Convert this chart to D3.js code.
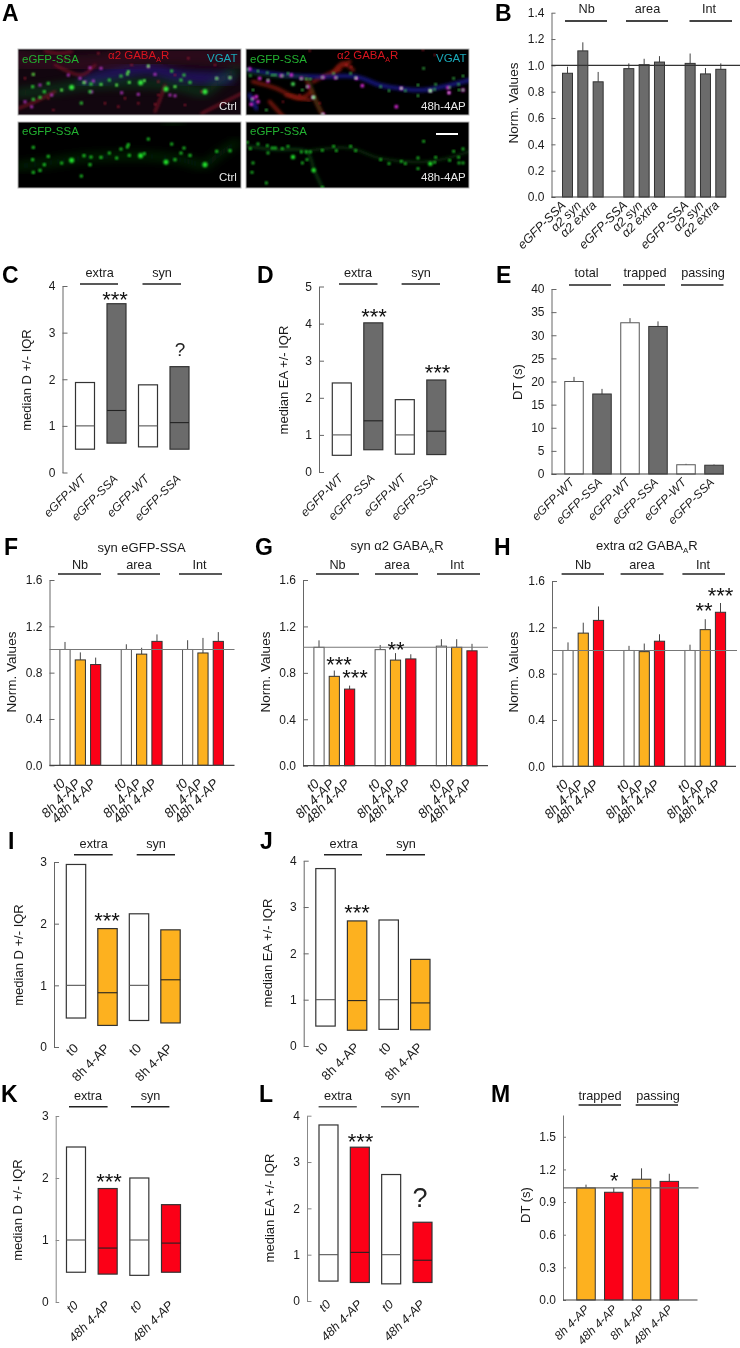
<!DOCTYPE html>
<html><head><meta charset="utf-8">
<script src="https://cdn.jsdelivr.net/npm/d3@7/dist/d3.min.js"></script>
<style>
html,body{margin:0;padding:0;background:#fff}
svg{display:block;filter:blur(.3px)}
text{font-family:"Liberation Sans",Arial,sans-serif;fill:#1a1a1a}
</style></head><body><svg id="fig" width="740" height="1348" xmlns="http://www.w3.org/2000/svg"></svg>
<script>
// ---------- DATA ----------
const slots3x3 = [0,1,2,4,5,6,8,9,10];
const catsB = ["eGFP-SSA","α2 syn","α2 extra","eGFP-SSA","α2 syn","α2 extra","eGFP-SSA","α2 syn","α2 extra"];
const valsB = [.94,1.11,.875,.975,1.005,1.025,1.015,.935,.97];
const errB  = [.99,1.175,.95,1.015,1.05,1.07,1.09,.98,1.015];
const groupsNAI = ["Nb","area","Int"];

const catsWS = ["eGFP-WT","eGFP-SSA","eGFP-WT","eGFP-SSA"];
const groupsES = ["extra","syn"];
const boxC = {lo:[.5,.63,.55,.5], med:[1,1.33,1,1.07], hi:[1.93,3.62,1.88,2.27]};
const boxD = {lo:[.45,.6,.48,.47], med:[1,1.38,1,1.1], hi:[2.4,4.02,1.95,2.48]};

const catsE = ["eGFP-WT","eGFP-SSA","eGFP-WT","eGFP-SSA","eGFP-WT","eGFP-SSA"];
const valsE = [20,17.3,32.7,31.9,2,1.9];
const errE  = [21,18.4,33.7,33,2.2,2.05];
const groupsE = ["total","trapped","passing"];

const catsT = ["t0","8h 4-AP","48h 4-AP","t0","8h 4-AP","48h 4-AP","t0","8h 4-AP","48h 4-AP"];
const valsF = [1,.91,.87,1,.96,1.07,1,.97,1.07];
const errF  = [1.065,.975,.93,1.045,1.015,1.13,1.08,1.1,1.15];
const valsG = [1.02,.77,.66,1,.91,.92,1.03,1.02,.99];
const errG  = [1.08,.82,.69,1.04,.97,.96,1.09,1.09,1.05];
const valsH = [1,1.15,1.26,1,.99,1.08,1,1.18,1.33];
const errH  = [1.07,1.24,1.38,1.04,1.06,1.14,1.05,1.27,1.41];

const cats8 = ["t0","8h 4-AP","t0","8h 4-AP"];
const cats48 = ["t0","48h 4-AP","t0","48h 4-AP"];
const boxI = {lo:[.47,.35,.43,.39], med:[1,.88,1,1.09], hi:[2.96,1.92,2.16,1.9]};
const boxJ = {lo:[.43,.34,.36,.35], med:[1,.98,1,.93], hi:[3.83,2.7,2.72,1.87]};
const boxK = {lo:[.48,.45,.43,.48], med:[1,.87,1,.95], hi:[2.5,1.83,2,1.57]};
const boxL = {lo:[.43,.4,.37,.4], med:[1,1.05,1,.88], hi:[3.8,3.32,2.73,1.7]};

const catsM = ["8h 4-AP","48h 4-AP","8h 4-AP","48h 4-AP"];
const valsM = [1.03,.99,1.11,1.09];
const errM  = [1.06,1.03,1.21,1.16];
const groupsM = ["trapped","passing"];

// micrograph puncta, in picture units of each tile (x 0-690, y 0-225); third item = large spot
const greenCtrl = [[170,127,1],[140,135],[207,113],[258,118],[305,120],[337,87],[340,80],[400,63],[343,112],[377,113,1],[388,107],[453,132,1],[480,125],[498,105],[507,90],[525,112],[605,100],[470,78],[570,140,1],[199,174],[55,163],[75,157],[88,140],[53,125],[228,117],[225,140],[645,98],[283,105],[55,88],[318,93],[100,115]];
const green48h = [[13,73],[22,92],[45,78],[73,83],[75,105],[88,90],[97,90],[118,92],[135,85],[150,117,1],[175,102],[190,102],[202,102],[178,135],[192,125],[212,157,1],[238,208],[238,97],[280,98],[272,85],[323,85],[338,98],[413,125],[475,130],[487,137],[525,120],[562,137,1],[575,133],[578,118],[620,127],[647,118],[660,135],[648,135],[660,93],[525,152],[30,135],[27,163],[438,137],[70,195],[542,70],[632,100]];
const pinkCtrl = [[210,110],[235,108],[605,100],[645,98],[370,148],[225,68],[258,70],[30,170],[75,120],[230,140],[320,143],[420,88],[465,150],[400,65],[480,152],[160,90],[195,100],[50,185],[110,150]];
const redCtrl = [[270,175],[370,175],[420,178],[115,195],[310,185],[250,25],[560,140],[100,160],[55,88],[430,110],[430,150],[330,160],[510,180],[350,60],[150,40],[600,60],[520,40],[30,100],[480,90]];
const pink48h = [[115,92],[145,90],[20,72],[30,160],[40,155],[45,170],[25,178],[210,157],[240,208],[340,100],[475,130],[562,137],[618,143],[660,135],[460,185],[278,98],[175,100],[195,125],[358,122],[75,108],[50,100],[615,128],[240,97]];
const red48h = [[200,17],[345,20],[540,15],[575,30],[325,65],[310,60],[170,150],[120,170],[230,175]];
const dendCtrl = [[8,145],[100,135],[200,120],[300,115],[400,115],[500,125],[570,140],[610,110],[665,75]];
const dend48hA = [[10,85],[100,95],[190,100],[215,160],[240,212]];
const dend48hB = [[190,100],[320,90],[410,120],[560,130],[680,100]];
const fiberCtrl = [[[560,205],[620,175],[680,145]],[[90,18],[130,25],[170,20]],[[10,190],[60,170],[120,140]],[[120,60],[200,90],[240,60]],[[420,200],[440,150],[450,120]]];
const hazeCtrl = [[[210,110],[300,85],[400,70],[500,95],[640,100]]];
const fiber48h = [[[30,110],[100,130],[170,160],[205,140]],[[285,70],[320,50]],[[210,110],[250,90],[290,75]],[[80,170],[130,225]],[[130,150],[200,165]],[[190,100],[215,160],[240,212]],[[270,85],[300,55],[330,75]]];
const haze48h = [[[15,75],[120,90],[230,95],[340,95],[410,120],[470,130],[540,135],[680,105]],[[20,150],[40,190]]];

// ---------- LAYOUT ----------
const svg = d3.select("#fig");
const GRAY="#6b6b6b", ORANGE="#fdb11f", RED="#fb0017", WHITE="#ffffff";
const defs = svg.append("defs");
[["b1",.8],["b2",1.8],["b3",5]].forEach(([id,s])=>defs.append("filter").attr("id",id).attr("x","-30%").attr("y","-30%").attr("width","160%").attr("height","160%").append("feGaussianBlur").attr("stdDeviation",s));

function T(s,x,y,o={}){
  const t=svg.append("text").attr("x",x).attr("y",y).attr("font-size",o.size||12).text(s);
  if(o.anchor)t.attr("text-anchor",o.anchor);
  if(o.weight)t.attr("font-weight",o.weight);
  if(o.style)t.attr("font-style",o.style);
  if(o.fill)t.style("fill",o.fill);
  if(o.rot!=null)t.attr("transform",`rotate(${o.rot} ${x} ${y})`);
  return t;
}
function letter(s,x,y){T(s,x,y,{size:23,weight:"bold",fill:"#000"});}
function groupHead(labels,lines,labelX,lineY,labelY,lw,col){
  labels.forEach((l,i)=>{
    T(l,labelX[i],labelY,{anchor:"middle",size:12.7});
    svg.append("line").attr("x1",lines[i][0]).attr("x2",lines[i][1]).attr("y1",lineY).attr("y2",lineY).attr("stroke",col||"#222").attr("stroke-width",lw||1.5);
  });
}
function axisY(p){
  const y=d3.scaleLinear().domain([0,p.top]).range([p.y0,p.yTop]);
  const g=svg.append("g").attr("transform",`translate(${p.axisX},0)`)
    .call(d3.axisLeft(y).tickValues(p.ticks).tickSizeInner(-(p.tick||5)).tickSizeOuter(0).tickPadding(7).tickFormat(d3.format(p.fmt||"d")));
  g.select(".domain").attr("stroke",p.axisCol||"#666").attr("stroke-width",1);
  g.selectAll(".tick line").attr("stroke",p.axisCol||"#666");
  g.selectAll("text").attr("font-size",12).attr("font-family",'"Liberation Sans",Arial,sans-serif');
  T(p.ylabel,p.labX,p.labY,{anchor:"middle",rot:-90,size:p.ylabel==="Norm. Values"?13.5:13});
  return y;
}
function xLabels(cats,x,slots,base,o){
  cats.forEach((c,i)=>{
    T(c,x(slots[i])+o.dx,base+o.dy,{anchor:"end",rot:-45,style:o.italic?"italic":null,size:o.size||12});
  });
}
function barPanel(p){
  const y=axisY(p);
  const x=d3.scaleLinear().domain([p.slots[0],p.slots[p.slots.length-1]]).range(p.xRange);
  const w=p.barW;
  p.vals.forEach((v,i)=>{
    const c=x(p.slots[i]);
    svg.append("line").attr("x1",c).attr("x2",c).attr("y1",y(v)).attr("y2",y(p.err[i])).attr("stroke","#444").attr("stroke-width",1);
    svg.append("rect").attr("x",c-w/2).attr("y",y(v)).attr("width",w).attr("height",y(0)-y(v))
      .attr("fill",p.fills[i]).attr("stroke",p.fills[i]===WHITE?"#555":"#333").attr("stroke-width",1);
  });
  svg.append("line").attr("x1",p.axisX).attr("x2",p.baseEnd).attr("y1",y(0)).attr("y2",y(0)).attr("stroke","#444").attr("stroke-width",1.2);
  if(p.ref!=null) svg.append("line").attr("x1",p.axisX).attr("x2",p.refEnd).attr("y1",y(p.ref)).attr("y2",y(p.ref)).attr("stroke",p.refCol||"#555").attr("stroke-width",1.1);
  xLabels(p.cats,x,p.slots,p.y0,p.lab);
}
function boxPanel(p){
  const y=axisY(p);
  const slots=d3.range(p.cats.length);
  const x=d3.scaleLinear().domain([0,slots.length-1]).range(p.xRange);
  const w=p.barW;
  p.box.hi.forEach((h,i)=>{
    const c=x(i), fill=p.fills[i];
    svg.append("rect").attr("x",c-w/2).attr("y",y(h)).attr("width",w).attr("height",y(p.box.lo[i])-y(h))
      .attr("fill",fill).attr("stroke","#333").attr("stroke-width",1.2);
    svg.append("line").attr("x1",c-w/2).attr("x2",c+w/2).attr("y1",y(p.box.med[i])).attr("y2",y(p.box.med[i])).attr("stroke",fill===WHITE?"#555":"#222").attr("stroke-width",1.1);
  });
  xLabels(p.cats,x,slots,p.y0,p.lab);
}
function stars(s,x,yc,size){T(s,x,yc+.5*(size||22),{anchor:"middle",size:size||22,fill:"#111"});}
function q(x,yc,size){T("?",x,yc+.36*size,{anchor:"middle",size,fill:"#222"});}
function gabaLabel(x,y,col){
  const t=svg.append("text").attr("x",x).attr("y",y).attr("font-size",11.5).style("fill",col);
  t.append("tspan").text("α2 GABA");
  t.append("tspan").attr("font-size",7).attr("dy",3).text("A");
  t.append("tspan").attr("dy",-3).text("R");
}

// ---------- PANEL A ----------
const sx=d3.scaleLinear().domain([0,690]);
const sy=d3.scaleLinear().domain([0,225]);
const line=d3.line().curve(d3.curveCatmullRom);
function tile(ox,oy,L,R,T0,B0,draw){
  const id="c"+ox+"_"+oy;
  defs.append("clipPath").attr("id",id).append("rect").attr("x",L).attr("y",T0).attr("width",R-L).attr("height",B0-T0);
  const g=svg.append("g").attr("clip-path",`url(#${id})`);
  g.append("rect").attr("x",L).attr("y",T0).attr("width",R-L).attr("height",B0-T0).attr("fill","#000");
  const X=d3.scaleLinear().domain(sx.domain()).range([ox,ox+230]);
  const Y=d3.scaleLinear().domain(sy.domain()).range([oy,oy+75]);
  const path=(pts,col,w,f,op)=>g.append("path").attr("d",line(pts.map(d=>[X(d[0]),Y(d[1])]))).attr("fill","none").attr("stroke",col).attr("stroke-width",w).attr("stroke-linecap","round").attr("opacity",op==null?1:op).attr("filter",`url(#${f})`);
  const dots=(arr,col,r,f)=>arr.forEach(d=>g.append("circle").attr("cx",X(d[0])).attr("cy",Y(d[1])).attr("r",(d[2]?r*1.6:r)).attr("fill",col).attr("filter",`url(#${f})`));
  draw(path,dots,g,L,T0,R-L,B0-T0);
  svg.append("rect").attr("x",L).attr("y",T0).attr("width",R-L).attr("height",B0-T0).attr("fill","none").attr("stroke","#b5b5b5").attr("stroke-width",1);
}
tile(15,45,18,241,49,115,(path,dots,g,l,t,w,h)=>{
  g.append("rect").attr("x",l).attr("y",t).attr("width",w).attr("height",h).attr("fill","#12060f");
  hazeCtrl.forEach(p=>path(p,"#2a1a90",12,"b3",.65));
  path([[0,40],[200,60],[400,30],[680,40]],"#3a0c24",20,"b3",.6);
  path(dendCtrl,"#0c6a20",6,"b3",.6);
  fiberCtrl.forEach(p=>path(p,"#8a1228",2.5,"b2",.8));
  dots(redCtrl,"#c81c38",1.1,"b1");
  dots(pinkCtrl,"#c838d8",1.5,"b1");
  dots(greenCtrl,"#34e83c",1.6,"b1");
  dots(greenCtrl.filter(d=>!d[2]).slice(0,10),"#e8e880",.7,"b1");
});
tile(243,45,246,469,49,115,(path,dots,g)=>{
  fiber48h.forEach(p=>path(p,"#8e1a10",4,"b2",.75));
  haze48h.forEach(p=>path(p,"#1c1c9c",4.5,"b2",.7));
  path(dend48hA,"#0f4a18",3,"b2",.5);
  dots(red48h,"#c81c2c",1,"b1");
  dots(pink48h,"#d82cd8",1.9,"b1");
  dots(green48h,"#48e858",1.2,"b1");
  dots(pink48h.slice(7,13),"#ffffff",.9,"b1");
});
tile(15,118,18,241,122,188,(path,dots)=>{
  path(dendCtrl,"#0a3c10",6,"b3",.75);
  path([[450,20],[500,12]],"#0a3c10",5,"b3",.5);
  dots(greenCtrl,"#20e02a",1.6,"b1");
});
tile(243,118,246,469,122,188,(path,dots)=>{
  path(dend48hA,"#0b4212",3,"b2",.75);
  path(dend48hB,"#083009",3,"b2",.75);
  dots(green48h,"#22e22c",1.4,"b1");
});
const GT="#22b030", WT="#e8e8e8";
T("eGFP-SSA",22,63,{size:11.5,fill:GT}); T("VGAT",207,62,{size:11.5,fill:"#19a8b8"}); T("Ctrl",219,110,{size:11.5,fill:WT});
gabaLabel(108,59,"#d8141e");
T("eGFP-SSA",250,63,{size:11.5,fill:GT}); T("VGAT",436,62,{size:11.5,fill:"#19a8b8"}); T("48h-4AP",421,110,{size:11.5,fill:WT});
gabaLabel(337,59,"#d8141e");
T("eGFP-SSA",22,135,{size:11.5,fill:GT}); T("Ctrl",219,181,{size:11.5,fill:WT});
T("eGFP-SSA",250,135,{size:11.5,fill:GT}); T("48h-4AP",421,181,{size:11.5,fill:WT});
svg.append("rect").attr("x",436).attr("y",133).attr("width",22).attr("height",2).attr("fill","#fff");

// ---------- PANEL LETTERS ----------
[["A",2,21],["B",495,21],["C",2,283],["D",257,283],["E",496,283],["F",4,555],["G",255,555],["H",494,555],["I",8,849],["J",260,849],["K",1,1102],["L",259,1102],["M",491,1102]]
 .forEach(d=>letter(...d));

// ---------- B ----------
barPanel({vals:valsB,err:errB,cats:catsB,slots:slots3x3,fills:catsB.map(()=>GRAY),barW:10,
 xRange:[567.5,720.8],top:1.4,y0:197,yTop:12.7,axisX:551.5,ticks:d3.range(0,1.41,.2),fmt:".1f",tick:4,
 baseEnd:726,ref:1,refEnd:740,refCol:"#333",ylabel:"Norm. Values",labX:518,labY:103,
 lab:{dx:-1,dy:9,italic:true,size:12.5}});
groupHead(groupsNAI,[[565,607],[626,668],[689.5,732]],[586.6,647.5,709],21,13,2.2,"#444");

// ---------- C ----------
boxPanel({box:boxC,cats:catsWS,fills:[WHITE,GRAY,WHITE,GRAY],barW:19,xRange:[85,179.5],top:4,y0:472.5,yTop:286,axisX:62.5,ticks:[0,1,2,3,4],
 ylabel:"median D +/- IQR",labX:31,labY:380,lab:{dx:2,dy:7,italic:true}});
groupHead(groupsES,[[80,118],[142.5,181]],[99.6,162],284,277);
stars("***",115,296); q(180,349,19);

// ---------- D ----------
boxPanel({box:boxD,cats:catsWS,fills:[WHITE,GRAY,WHITE,GRAY],barW:19,xRange:[341.8,436.3],top:5,y0:472,yTop:286.5,axisX:319,ticks:[0,1,2,3,4,5],
 ylabel:"median EA +/- IQR",labX:288,labY:380,lab:{dx:2,dy:7,italic:true}});
groupHead(groupsES,[[339,377.5],[401.6,440]],[358,421],284,277);
stars("***",374,313); stars("***",437.5,369);

// ---------- E ----------
barPanel({vals:valsE,err:errE,cats:catsE,slots:d3.range(6),fills:[WHITE,GRAY,WHITE,GRAY,WHITE,GRAY],barW:18.5,
 xRange:[574,714],top:40,y0:474,yTop:289,axisX:551.5,ticks:d3.range(0,41,5),tick:5,baseEnd:724,
 ylabel:"DT (s)",labX:522,labY:382,lab:{dx:1,dy:9,italic:true}});
groupHead(groupsE,[[569,611],[623,665],[681,723.5]],[586.6,645,703],285,277);

// ---------- F G H ----------
const fills3=[WHITE,ORANGE,RED,WHITE,ORANGE,RED,WHITE,ORANGE,RED];
const labT={dx:1,dy:19,italic:true,size:13.5};
barPanel({vals:valsF,err:errF,cats:catsT,slots:slots3x3,fills:fills3,barW:10.2,xRange:[65,218.3],top:1.6,y0:765.3,yTop:580,axisX:49.5,
 ticks:[0,.4,.8,1.2,1.6],fmt:".1f",baseEnd:234.5,ref:1,refEnd:234.5,refCol:"#777",ylabel:"Norm. Values",labX:16,labY:672,lab:labT});
T("syn eGFP-SSA",141.6,552,{anchor:"middle",size:13});
groupHead(groupsNAI,[[58,101],[117.5,160],[179,222]],[80,139,199.6],574,569);

barPanel({vals:valsG,err:errG,cats:catsT,slots:slots3x3,fills:fills3,barW:10.2,xRange:[319,472],top:1.6,y0:765.7,yTop:580,axisX:303,
 ticks:[0,.4,.8,1.2,1.6],fmt:".1f",baseEnd:488,ref:1.02,refEnd:488,refCol:"#777",ylabel:"Norm. Values",labX:270,labY:672,lab:labT});
{const t=svg.append("text").attr("x",350.5).attr("y",550).attr("font-size",13);
 t.append("tspan").text("syn α2 GABA"); t.append("tspan").attr("font-size",8).attr("dy",3).text("A"); t.append("tspan").attr("dy",-3).text("R");}
groupHead(groupsNAI,[[316,359],[375,418],[437,480]],[337.5,397,457],574,569);
stars("***",339,661); stars("***",355,674); stars("**",396,646);

barPanel({vals:valsH,err:errH,cats:catsT,slots:slots3x3,fills:fills3,barW:10.2,xRange:[568,720.5],top:1.6,y0:766.3,yTop:581,axisX:552,
 ticks:[0,.4,.8,1.2,1.6],fmt:".1f",baseEnd:736,ref:1,refEnd:737,refCol:"#777",ylabel:"Norm. Values",labX:518,labY:672,lab:labT});
{const t=svg.append("text").attr("x",596).attr("y",550).attr("font-size",13);
 t.append("tspan").text("extra α2 GABA"); t.append("tspan").attr("font-size",8).attr("dy",3).text("A"); t.append("tspan").attr("dy",-3).text("R");}
groupHead(groupsNAI,[[561.6,604],[620.6,663.5],[682.4,725]],[583,642,703],574,569);
stars("**",704,607); stars("***",720.6,592);

// ---------- I J ----------
const fillsO=[WHITE,ORANGE,WHITE,ORANGE], fillsR=[WHITE,RED,WHITE,RED];
const labIJ={dx:3,dy:2,size:13};
boxPanel({box:boxI,cats:cats8,fills:fillsO,barW:19.4,xRange:[76,170.5],top:3,y0:1047,yTop:862,axisX:54,ticks:[0,1,2,3],
 ylabel:"median D +/- IQR",labX:23,labY:955,lab:labIJ});
groupHead(groupsES,[[74,112.7],[136.7,175]],[93.7,156],854.7,848,1.4);
stars("***",107,917);
boxPanel({box:boxJ,cats:cats8,fills:fillsO,barW:19.4,xRange:[325.5,420.3],top:4,y0:1046,yTop:860.7,axisX:303.7,ticks:[0,1,2,3,4],
 ylabel:"median EA +/- IQR",labX:272,labY:953,lab:labIJ});
groupHead(groupsES,[[324,362],[386,425]],[343.7,406],854.7,848,1.4);
stars("***",357,909);

// ---------- K L ----------
const labKL={dx:3,dy:4,italic:true,size:12.5};
boxPanel({box:boxK,cats:cats48,fills:fillsR,barW:19,xRange:[76,171],top:3,y0:1302,yTop:1116,axisX:55.7,ticks:[0,1,2,3],tick:3.5,axisCol:"#888",
 ylabel:"median D +/- IQR",labX:22,labY:1210,lab:labKL});
groupHead(groupsES,[[69,107.6],[131,169.4]],[88,150.5],1106.7,1100);
stars("***",109,1178);
boxPanel({box:boxL,cats:cats48,fills:fillsR,barW:19,xRange:[328.5,422.5],top:4,y0:1301,yTop:1115.7,axisX:307,ticks:[0,1,2,3,4],tick:4.5,axisCol:"#888",
 ylabel:"median EA +/- IQR",labX:274,labY:1208,lab:labKL});
groupHead(groupsES,[[318.6,356.8],[381,419]],[338,400.6],1106.7,1100,1.5,"#555");
stars("***",360.5,1138); q(420,1197,27);

// ---------- M ----------
barPanel({vals:valsM,err:errM,cats:catsM,slots:d3.range(4),fills:[ORANGE,RED,ORANGE,RED],barW:18.5,xRange:[586,669.3],top:1.7,y0:1300,yTop:1115,axisX:563,
 ticks:[0,.3,.6,.9,1.2,1.5],fmt:".1f",tick:3,axisCol:"#777",baseEnd:697.5,ref:1.03,refEnd:698.5,refCol:"#666",ylabel:"DT (s)",labX:530,labY:1205,lab:{dx:4,dy:10,italic:true}});
groupHead(groupsM,[[578.6,621],[635.7,678]],[600,658],1105,1100);
stars("*",614.4,1177);
</script></body></html>
